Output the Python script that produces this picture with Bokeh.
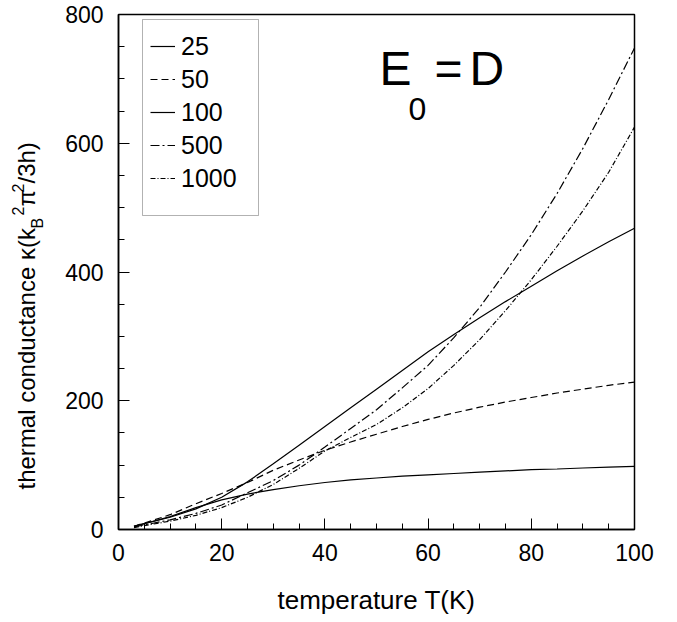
import math
from bokeh.plotting import figure
from bokeh.layouts import row
from bokeh.models import Legend, LegendItem, Label, FixedTicker, Range1d, BoxAnnotation
from bokeh.core.properties import value
from bokeh.embed import file_html
from bokeh.resources import INLINE

# ---- data ----
T = [3, 5, 10, 15, 20, 25, 30, 35, 40, 45, 50, 55, 60, 65, 70, 75, 80, 85, 90, 95, 100]
k25 = [5, 9, 20, 34, 46, 55, 62, 68, 73, 77, 80, 83, 85, 87, 89, 91, 93, 94, 95.5, 97, 98]
k50 = [5, 10, 23, 40, 56, 73, 92, 108, 123, 136, 148, 160, 171, 181, 190, 198, 205, 212, 218, 224, 229]
k100 = [5, 9, 19, 32, 50, 74, 102, 131, 160, 189, 218, 247, 276, 303, 329, 354, 378, 402, 425, 447, 468]
k500 = [4, 7, 15, 25, 38, 57, 76, 100, 128, 157, 186, 220, 255, 298, 345, 400, 458, 522, 592, 668, 748]
k1000 = [3, 6, 13, 22, 34, 50, 70, 95, 122, 143, 163, 189, 219, 255, 295, 340, 388, 440, 495, 555, 625]

series_labels = ["25", "50", "100", "500", "1000"]
x_ticks = [0, 20, 40, 60, 80, 100]
y_ticks = [0, 200, 400, 600, 800]

FONT = "Liberation Sans"
H = 621          # page height used
LEFT_W = 60      # width of the strip holding the y-axis title
FT, FB = 14, 92  # frame top / bottom borders (frame spans page y 14..529)

p = figure(width=608, height=H, output_backend="svg", toolbar_location=None,
           x_range=Range1d(0, 100), y_range=Range1d(0, 800),
           min_border_left=58, min_border_right=34, min_border_top=FT, min_border_bottom=FB)
p.background_fill_color = "white"
p.border_fill_color = "white"
p.xgrid.visible = False
p.ygrid.visible = False
p.outline_line_color = "black"
p.outline_line_width = 1.5

for ax in (p.xaxis[0], p.yaxis[0]):
    ax.axis_line_width = 1.5
    ax.axis_line_color = "black"
    ax.major_tick_in = 11
    ax.major_tick_out = 0
    ax.minor_tick_in = 6
    ax.minor_tick_out = 0
    ax.major_tick_line_color = "black"
    ax.minor_tick_line_color = "black"
    ax.major_label_text_font = FONT
    ax.major_label_text_font_size = "23px"
    ax.major_label_text_color = "black"
    ax.axis_label_text_font = FONT
    ax.axis_label_text_font_style = "normal"
    ax.axis_label_text_font_size = "26px"
    ax.axis_label_text_color = "black"

p.xaxis.ticker = FixedTicker(ticks=x_ticks, minor_ticks=list(range(0, 101, 5)))
p.yaxis.ticker = FixedTicker(ticks=y_ticks, minor_ticks=list(range(0, 801, 50)))
p.xaxis.major_label_standoff = 14
p.yaxis.major_label_standoff = 15
p.xaxis.axis_label = "temperature T(K)"
p.xaxis.axis_label_standoff = 21
p.yaxis.axis_label = None

LW = 1.2
r1 = p.line(T, k25, line_color="black", line_width=LW)
r2 = p.line(T, k50, line_color="black", line_width=LW, line_dash="7 4")
r3 = p.line(T, k100, line_color="black", line_width=LW)
r4 = p.line(T, k500, line_color="black", line_width=LW, line_dash="9 3 2 3")
r5 = p.line(T, k1000, line_color="black", line_width=LW, line_dash="5 2 1 2")

# text/box positions (page pixel -> data helpers, for annotations only)
def tx(px):
    return (px - 118) * 100 / 516

def ky(py):
    return (529 - py) * 800 / 515

# legend frame (drawn separately for its uneven inner margins)
p.add_layout(BoxAnnotation(left=tx(142), right=tx(258), top=ky(19), bottom=ky(215),
                           fill_color="white", fill_alpha=1, line_color="black",
                           line_width=1, level="annotation"))

legend = Legend(items=[LegendItem(label=l, renderers=[r]) for l, r in
                       zip(series_labels, [r1, r2, r3, r4, r5])],
                location=(24, 328), margin=0, padding=8, spacing=3,
                glyph_width=25, glyph_height=30, label_height=30, label_width=0,
                label_standoff=6, label_text_font=FONT, label_text_font_size="25px",
                label_text_color="black", border_line_alpha=0,
                background_fill_alpha=0)
p.add_layout(legend)

def lab(text, px, py, size):
    p.add_layout(Label(x=tx(px), y=ky(py), text=text,
                       text_font=FONT, text_font_size=size, text_color="black",
                       text_align="left", text_baseline="alphabetic"))

# E0 = D
lab("E", 379, 68, "48px")
lab("0", 408, 108, "32px")
lab("=", 434, 68, "48px")
lab("D", 469, 68, "48px")

# ---- strip with the rotated y-axis title (sub/superscripts) ----
q = figure(width=LEFT_W, height=H, output_backend="svg", toolbar_location=None,
           x_range=Range1d(0, LEFT_W), y_range=Range1d(FB, H - FT),
           x_axis_type=None, y_axis_type=None,
           min_border_left=0, min_border_right=0, min_border_top=FT, min_border_bottom=FB)
q.xgrid.visible = False
q.ygrid.visible = False
q.outline_line_color = None
q.background_fill_color = "white"
q.border_fill_color = "white"

title_parts = ["thermal conductance κ(k", "B", "2", "π", "2", "/3h)"]
part_x = [26, 37, 17, 26, 17, 26]
part_top = [489, 228, 215, 206, 192, 183]
part_size = ["24px", "16px", "16px", "24px", "16px", "24px"]
for t, x, yt, s in zip(title_parts, part_x, part_top, part_size):
    q.text(x=[x], y=[H - yt], text=[t], angle=math.pi / 2,
           text_font=value(FONT), text_font_size=value(s), text_color="black",
           text_align="left", text_baseline="alphabetic")

layout = row(q, p, spacing=0)
open("out.html", "w").write(file_html(layout, INLINE))
